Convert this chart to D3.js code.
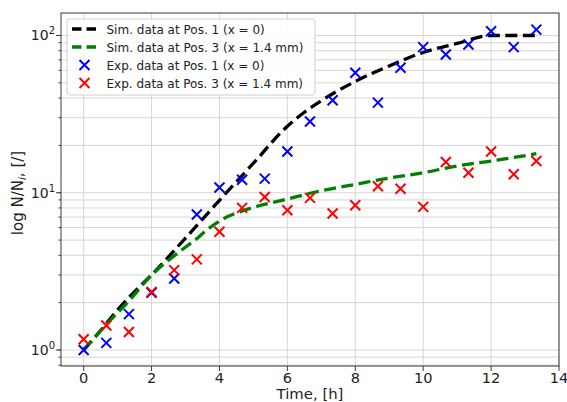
<!DOCTYPE html>
<html><head><meta charset="utf-8">
<script src="https://cdn.jsdelivr.net/npm/d3@7"></script>
<style>body{margin:0;background:#fff}svg{display:block;font-family:"DejaVu Sans",sans-serif}</style>
</head><body><svg id="c" width="567" height="402"></svg>
<script>
// Experimental sampling times [h]
const expTimes = [0,0.667,1.333,2,2.667,3.333,4,4.667,5.333,6,6.667,7.333,8,8.667,9.333,10,10.667,11.333,12,12.667,13.333];
const expPos1 = [1.0,1.11,1.69,2.31,2.85,7.27,10.8,12.1,12.3,18.3,28.4,38.7,58.0,37.4,62.4,84.3,75.7,87.7,106.5,84.3,109];
const expPos3 = [1.17,1.43,1.30,2.34,3.22,3.77,5.64,8.01,9.40,7.74,9.27,7.38,8.33,11.0,10.6,8.13,15.7,13.4,18.3,13.1,15.9];
// Simulation curves
const simTimes1 = [0,0.5,1,1.5,2,3,4,5,6,6.5,7,8,9,10,11,12,13.333];
const simPos1  = [1.0,1.33,1.8,2.35,3.0,5.15,8.95,15.4,26.5,32.5,38.5,51,64,78,89,100,100];
const simTimes3 = [0,0.667,1.333,2,2.75,3.33,3.63,4,4.9,5.9,7,8,9,10,11,12,13.333];
const simPos3  = [1.0,1.45,2.05,3.0,4.1,5.1,5.8,6.6,7.95,9.0,10.3,11.3,12.4,13.4,14.8,15.9,17.7];
const xTicks = [0,2,4,6,8,10,12,14];
const yTicks = [1,10,100];
const yTickExp = ["0","1","2"];
const legendLabels = ["Sim. data at Pos. 1 (x = 0)","Sim. data at Pos. 3 (x = 1.4 mm)","Exp. data at Pos. 1 (x = 0)","Exp. data at Pos. 3 (x = 1.4 mm)"];

const L=61,R=559,T=13,B=366;
const svg=d3.select("#c");
const x=d3.scaleLinear().domain([-0.667,14]).range([L,R]);
const y=d3.scaleLog().domain([Math.pow(10,-0.102),Math.pow(10,2.143)]).range([B,T]);

// grid
const minor=[];
for(let e=-1;e<=2;e++)for(let k=1;k<10;k++){const v=k*Math.pow(10,e);if(v>=y.domain()[0]&&v<=y.domain()[1])minor.push(v);}
const g=svg.append("g");
g.selectAll(".hg").data(minor).join("line").attr("x1",L).attr("x2",R)
 .attr("y1",d=>y(d)).attr("y2",d=>y(d)).attr("stroke","#d6d6d6").attr("stroke-width",1);
g.selectAll(".vg").data(xTicks).join("line").attr("y1",T).attr("y2",B)
 .attr("x1",d=>x(d)).attr("x2",d=>x(d)).attr("stroke","#d6d6d6").attr("stroke-width",1);

// lines
const line=d3.line().curve(d3.curveMonotoneX);
svg.append("path").attr("d",line(simTimes1.map((t,i)=>[x(t),y(simPos1[i])])))
 .attr("fill","none").attr("stroke","#000").attr("stroke-width",3.3).attr("stroke-dasharray","12,5.5");
svg.append("path").attr("d",line(simTimes3.map((t,i)=>[x(t),y(simPos3[i])])))
 .attr("fill","none").attr("stroke","#008000").attr("stroke-width",3.3).attr("stroke-dasharray","12,5.5");

function xMark(sel,col){
  const s=5;
  sel.append("path").attr("d",`M${-s},${-s}L${s},${s}M${-s},${s}L${s},${-s}`)
   .attr("stroke",col).attr("stroke-width",2).attr("fill","none");
}
svg.append("g").selectAll("g").data(expTimes).join("g")
 .attr("transform",(d,i)=>`translate(${x(d)},${y(expPos1[i])})`).each(function(){xMark(d3.select(this),"#0000ff");});
svg.append("g").selectAll("g").data(expTimes).join("g")
 .attr("transform",(d,i)=>`translate(${x(d)},${y(expPos3[i])})`).each(function(){xMark(d3.select(this),"#ff0000");});

// frame
svg.append("rect").attr("x",L).attr("y",T).attr("width",R-L).attr("height",B-T)
 .attr("fill","none").attr("stroke","#3a3a3a").attr("stroke-width",1);

// x axis
const xa=svg.append("g");
xa.selectAll("line").data(xTicks).join("line").attr("x1",d=>x(d)).attr("x2",d=>x(d))
 .attr("y1",B).attr("y2",B+5).attr("stroke","#3a3a3a");
xa.selectAll("text").data(xTicks).join("text").attr("transform",d=>`translate(${x(d)},383) scale(1.08,1)`)
 .attr("text-anchor","middle").attr("font-size",13.5).attr("fill","#222").text(d=>d);
svg.append("text").attr("transform",`translate(${(L+R)/2},398.5) scale(1.1,1)`).attr("text-anchor","middle")
 .attr("font-size",13.5).attr("fill","#222").text("Time, [h]");

// y axis
const ya=svg.append("g");
ya.selectAll(".mt").data(minor).join("line").attr("x1",L-2.5).attr("x2",L).attr("y1",d=>y(d)).attr("y2",d=>y(d)).attr("stroke","#3a3a3a");
ya.selectAll(".Mt").data(yTicks).join("line").attr("x1",L-5).attr("x2",L).attr("y1",d=>y(d)).attr("y2",d=>y(d)).attr("stroke","#3a3a3a");
const yl=ya.selectAll(".yl").data(yTicks).join("text").attr("x",55).attr("y",d=>y(d)+5)
 .attr("text-anchor","end").attr("font-size",14).attr("fill","#222");
yl.append("tspan").text("10");
yl.append("tspan").attr("dy",-6).attr("font-size",10).text((d,i)=>yTickExp[i]);

const yt=svg.append("text").attr("transform","translate(23,193) rotate(-90)")
 .attr("text-anchor","middle").attr("font-size",15).attr("fill","#222");
yt.append("tspan").text("log N/N");
yt.append("tspan").attr("dy",3).attr("font-size",10.5).attr("font-style","italic").text("i");
yt.append("tspan").attr("dy",-3).text(", [/]");

// legend
const lg=svg.append("g");
lg.append("rect").attr("x",67).attr("y",19).attr("width",248).attr("height",76).attr("rx",3)
 .attr("fill","#fff").attr("fill-opacity",0.85).attr("stroke","#d0d0d0");
const rows=[29,47,65,83];
[["#000"],["#008000"]].forEach((c,i)=>{
  lg.append("line").attr("x1",72).attr("x2",97).attr("y1",rows[i]).attr("y2",rows[i])
   .attr("stroke",c[0]).attr("stroke-width",3.3).attr("stroke-dasharray","9.5,5");
});
xMark(lg.append("g").attr("transform",`translate(84.5,${rows[2]})`),"#0000ff");
xMark(lg.append("g").attr("transform",`translate(84.5,${rows[3]})`),"#ff0000");
lg.selectAll("text").data(legendLabels).join("text").attr("x",106.5).attr("y",(d,i)=>rows[i]+4.5)
 .attr("font-size",12).attr("fill","#222").text(d=>d);
</script></body></html>
